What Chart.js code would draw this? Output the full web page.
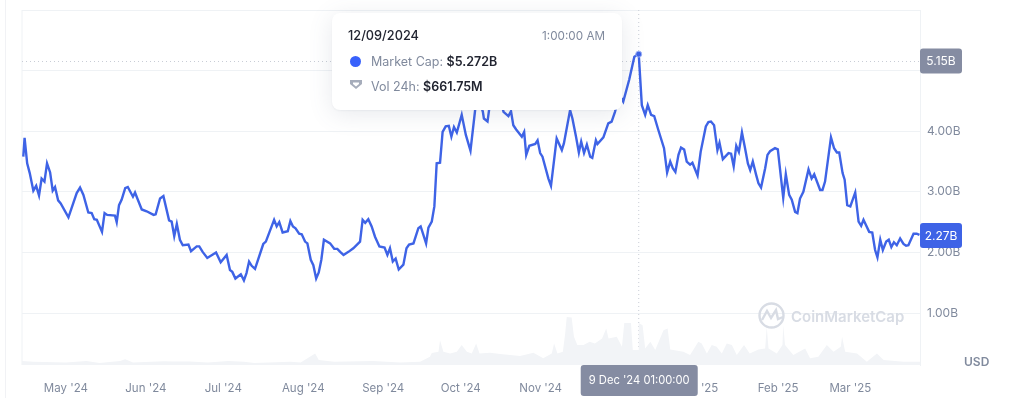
<!DOCTYPE html>
<html>
<head>
<meta charset="utf-8">
<title>Market cap</title>
<script src="https://cdn.jsdelivr.net/npm/chart.js@4"></script>
<style>
  html, body { margin: 0; padding: 0; background: #fff; }
  body { width: 1024px; height: 398px; position: relative; overflow: hidden; font-family: Inter, "Noto Sans", sans-serif; }
  #chart { position: absolute; left: 0; top: 0; }
  .edge { position: absolute; left: 5px; top: 0; width: 1px; height: 398px; background: #f1f2f5; }
  .tip { position: absolute; left: 332px; top: 13px; width: 290px; height: 97px; background: #fff; border-radius: 8px;
         box-shadow: 0 4px 24px rgba(88,102,126,.14), 0 1px 2px rgba(88,102,126,.06); font-size: 12.5px; color: #808a9d; }
  .tip span, .tip b, .tip svg, .tip i { position: absolute; white-space: nowrap; }
  .tip b { color: #222531; font-weight: 600; }
  .tip i { left: 18px; top: 43px; width: 11px; height: 11px; border-radius: 50%; background: #3861fb; }
  .usd { position: absolute; left: 964px; top: 354px; font-size: 12px; font-weight: 600; color: #808a9d; }
  .mark { position: absolute; left: 758px; top: 302px; color: #d8dce4; font-size: 15px; font-weight: 600; }
  .mark span { position: absolute; left: 33px; top: 5px; white-space: nowrap; }
</style>
</head>
<body>
<div class="edge"></div>
<canvas id="chart" width="1024" height="398" role="img" aria-label="Market cap and 24h volume, April 2024 to March 2025"></canvas>
<div class="mark">
  <svg width="27" height="27" viewBox="0 0 27 27" fill="none" stroke="currentColor" stroke-width="2.4">
    <circle cx="13.5" cy="13.5" r="12"/>
    <path d="M4 18 L9 9 L13 16 L18 8 L20 17 L25 15"/>
  </svg>
  <span>CoinMarketCap</span>
</div>
<div class="usd">USD</div>
<div class="tip">
  <b style="left:16px;top:15px;font-size:12.75px;font-weight:500">12/09/2024</b>
  <span style="right:17px;top:16px;font-size:11.7px">1:00:00 AM</span>
  <i></i>
  <span style="left:39px;top:41px">Market Cap: <b style="position:static">$5.272B</b></span>
  <svg style="left:17px;top:66px" width="14" height="11" viewBox="0 0 14 11"><path d="M1 1 H13 V5 L7 10 L1 5 Z M4 3.5 V5 L7 7.5 L10 5 V3.5 Z" fill="#a6adbb" fill-rule="evenodd"/></svg>
  <span style="left:39px;top:66px">Vol 24h: <b style="position:static">$661.75M</b></span>
</div>
<script>
// days counted from 14 Apr 2024
const capDays = [0.5,1,2,3,4.4,5.5,6.6,7.6,8.7,9.7,10.9,11.9,12.8,14,15,18,21.2,22.5,23.8,25.7,27,28,29,31,32,33,36,36.7,37.6,38.6,40,41,43,43.8,44.7,46.4,48.3,51,51.8,53.5,54.8,57,58,59,60,61.2,62.3,64.5,65.5,67.7,68.7,70,71.8,75.2,77,79.3,80.6,81.5,82.7,84.8,86,87,88,89,90.3,93.5,94.5,97.7,98.7,99.7,101,103,104,105,106,107.4,108.4,109.7,110.6,111.9,112.9,114,115,116,117,119.4,121,122.2,123.3,124.6,126.5,128.4,131,132,133,134.2,135.5,136.8,138.5,140.5,141.6,142.6,143.7,144.8,146,147.8,149,150,151.7,153.6,154.5,156.6,157.5,158.8,159.8,160.7,162,163,164.2,165.4,166.4,167.4,168.5,170.4,172,173.8,175.6,177,178.6,179,180.4,181,183,185,186.6,188.5,189.5,190.4,191.5,193.7,194.6,195.4,196.6,198.9,199.8,200.8,201.7,204,205,207.2,209.2,210,212.4,213.3,214.7,215.8,216.7,217.8,218.9,220.2,221,222.4,223,225.3,227.2,228.5,229.8,231.5,233,235.3,237.3,239,240.2,241.5,242.5,243.8,245,246.6,248.8,250,251.2,252.2,253.2,254.4,255.4,256.6,257.6,258.9,259.8,261.8,263,265,266,267,268.2,269.5,270.3,271.6,273.8,274.8,275.8,276.8,277.8,279,280.2,281.3,282.2,283.2,284.5,285.4,286.4,288,288.9,289.9,291.8,292.9,295,296,297.3,298.3,299.6,300.5,301.5,302.8,304.8,306,307,309.3,310.2,311.2,313.5,314.7,315.8,316.7,318,318.8,319.8,321,322.9,324.2,325.2,326.1,328.3,329.5,330.6,331.5,332.6,333.6,334.9,335.9,336.9,337.9,339,340.3,341.6,342.6,343.5,345.5,346.7,347.8];
const capValues = [3.58,3.89,3.47,3.31,3.02,3.10,2.94,3.22,3.17,3.47,3.32,3.02,3.08,2.86,2.81,2.58,2.98,3.07,2.95,2.66,2.65,2.55,2.54,2.34,2.65,2.62,2.61,2.50,2.78,2.87,3.06,3.08,2.92,2.99,2.89,2.71,2.68,2.62,2.63,2.89,2.93,2.53,2.51,2.27,2.47,2.21,2.12,2.13,2.02,2.10,2.10,2.01,1.91,2.00,1.84,1.96,1.71,1.68,1.57,1.64,1.54,1.66,1.85,1.78,1.73,2.14,2.18,2.54,2.43,2.50,2.33,2.35,2.52,2.43,2.40,2.31,2.30,2.18,2.15,1.88,1.79,1.57,1.67,1.88,2.21,2.15,2.06,2.06,2.01,1.96,2.01,2.07,2.18,2.54,2.49,2.55,2.43,2.26,2.10,2.08,1.96,2.07,1.85,1.90,1.72,1.80,2.07,2.13,2.15,2.40,2.43,2.15,2.41,2.51,2.76,3.47,3.48,3.99,4.08,4.09,3.91,4.07,3.98,4.27,3.94,3.68,4.35,4.55,4.32,4.21,4.16,4.35,4.75,4.6,4.32,4.25,4.33,4.10,4.03,3.91,3.99,3.61,3.76,3.79,3.85,3.64,3.58,3.22,3.10,3.88,3.69,3.80,4.35,4.21,3.91,3.65,3.83,3.64,3.78,3.58,3.56,3.85,3.79,3.90,4.13,4.16,4.32,4.6,4.49,4.85,5.23,5.272,4.43,4.27,4.43,4.27,4.25,4.02,3.72,3.32,3.50,3.39,3.33,3.61,3.73,3.70,3.50,3.45,3.48,3.27,3.66,4.08,4.15,4.16,4.10,3.69,3.81,3.54,3.64,3.63,3.42,3.76,3.66,3.98,3.72,3.47,3.36,3.50,3.28,3.14,3.07,3.39,3.61,3.67,3.72,3.70,2.90,3.29,2.95,2.87,2.67,2.65,2.89,3.00,3.37,3.22,3.29,3.03,3.03,3.17,3.90,3.72,3.65,3.65,3.31,3.20,2.78,2.76,2.99,2.51,2.44,2.54,2.34,2.33,2.04,1.92,2.21,2.04,2.18,2.21,2.09,2.17,2.12,2.23,2.14,2.11,2.12,2.31,2.31,2.29];

const volDays = [0,4.4,17,25,30,38,40,43,55,58.7,65,72,80,86,90,104,108,113.6,115,121,136,146.5,154.3,158.1,158.8,161.4,162,163.3,165.9,168.5,170.4,172.4,174.3,176,177.3,181.4,185.3,193,198.2,202,205.3,206.2,207.5,209.6,210.5,211.1,213,213.9,215.2,217.6,220,222,224.8,226.4,227.3,230.5,232.5,233.4,236,236.7,238.8,239,240.5,241.5,243.5,245.4,248.6,250.2,251.2,256.3,258.9,262.1,263.4,265.4,267.3,269.2,271.2,273.1,275.1,277,279.8,282,285.4,288,288.6,289.3,292.5,294.7,295,295.7,298.9,303.5,305.4,308.6,311.9,314.5,317.3,317.8,319,323.6,327.4,331.3,333.9,341.6,348];
const volValues = [62,50,40,62,30,62,90,40,60,55,55,38,62,50,30,50,40,180,78,50,62,38,52,130,190,210,390,210,183,210,314,210,183,340,183,194,173,141,194,105,183,340,183,210,497,758,748,445,314,314,366,340,418,575,418,445,288,664,664,235,235,661.75,628,262,366,235,549,575,246,209,157,366,340,183,314,288,183,340,314,157,314,183,246,261,601,261,183,314,628,314,157,261,105,131,314,209,288,445,209,183,52,183,78,52,52];

const tickDays = [17,48,78,109,140,170,201,231,262,293,321];
const tickLabels = ["May '24","Jun '24","Jul '24","Aug '24","Sep '24","Oct '24","Nov '24","Dec '24","Jan '25","Feb '25","Mar '25"];
const capTicks = [1,2,3,4,5,6];

const selectedDay = 239;
const crossCap = 5.15;
const lastCap = 2.27;

const BLUE = "#3e63e6";
const GREY = "#808a9d";
const GRID = "#eff2f5";
const FONT = "Inter";

const zip = (xs, ys) => xs.map((x, i) => ({ x, y: ys[i] }));

function badge(ctx, x, y, w, h, color, text, size) {
  ctx.fillStyle = color;
  ctx.beginPath();
  ctx.roundRect(x, y, w, h, 3);
  ctx.fill();
  ctx.fillStyle = "#fff";
  ctx.font = size + "px " + FONT;
  ctx.textAlign = "center";
  ctx.textBaseline = "middle";
  ctx.fillText(text, x + w / 2, y + h / 2 + 0.5);
}

// crosshair and the axis badges
const overlay = {
  id: "overlay",
  beforeDatasetsDraw(chart) {
    const { ctx, chartArea: a, scales } = chart;
    const cx = scales.x.getPixelForValue(selectedDay);
    const cy = scales.y.getPixelForValue(crossCap);
    ctx.save();
    ctx.strokeStyle = GRID;
    ctx.lineWidth = 1;
    ctx.beginPath();
    ctx.moveTo(a.left, a.top); ctx.lineTo(a.left, a.bottom);
    ctx.stroke();
    ctx.strokeStyle = "#c9cdd6";
    ctx.setLineDash([1, 3]);
    ctx.beginPath();
    ctx.moveTo(cx, a.top); ctx.lineTo(cx, a.bottom);
    ctx.moveTo(a.left, cy); ctx.lineTo(a.right, cy);
    ctx.stroke();
    ctx.restore();
  },
  afterDraw(chart) {
    const { ctx, chartArea: a, scales } = chart;
    ctx.save();
    badge(ctx, a.right, scales.y.getPixelForValue(crossCap) - 13, 42, 25, "#858ca2", crossCap.toFixed(2) + "B", 12);
    badge(ctx, a.right, scales.y.getPixelForValue(lastCap) - 13, 42, 25, BLUE, lastCap.toFixed(2) + "B", 12);
    const cx = scales.x.getPixelForValue(selectedDay);
    badge(ctx, cx - 58, a.bottom, 117, 31, "#858ca2", "9 Dec '24 01:00:00", 11.2);
    ctx.restore();
  },
};

new Chart(document.getElementById("chart"), {
  type: "line",
  data: {
    datasets: [
      {
        label: "Market Cap", data: zip(capDays, capValues), yAxisID: "y", order: 1,
        borderColor: BLUE, borderWidth: 2.4, tension: 0, backgroundColor: BLUE,
        pointRadius: (c) => (capDays[c.dataIndex] === selectedDay ? 3 : 0),
        pointBorderColor: "#9fb2f5", pointBorderWidth: 1,
      },
      {
        label: "Vol 24h", data: zip(volDays, volValues), yAxisID: "yVol", order: 2,
        borderWidth: 0, pointRadius: 0, tension: 0, fill: "origin", backgroundColor: "#f2f4f7",
      },
    ],
  },
  options: {
    responsive: false,
    animation: false,
    layout: { padding: { left: 22, top: 10, right: 0, bottom: 0 } },
    plugins: { legend: { display: false }, tooltip: { enabled: false } },
    scales: {
      x: {
        type: "linear", min: 0, max: 348,
        grid: { display: false },
        border: { display: false },
        afterBuildTicks: (s) => { s.ticks = tickDays.map((value) => ({ value })); },
        afterFit: (s) => { s.height = 33; },
        ticks: {
          autoSkip: false, maxRotation: 0, padding: 9, color: GREY, font: { family: FONT, size: 11.5 },
          callback: (v) => tickLabels[tickDays.indexOf(v)],
        },
      },
      y: {
        position: "right", min: 0.144, max: 6,
        grid: { color: GRID, drawTicks: false },
        border: { color: GRID },
        afterBuildTicks: (s) => { s.ticks = capTicks.map((value) => ({ value })); },
        afterFit: (s) => { s.width = 104; s.paddingTop = 0; s.paddingBottom = 0; },
        ticks: {
          padding: 7, color: GREY, font: { family: FONT, size: 12 },
          callback: (v) => (v >= 5 ? "" : v.toFixed(2) + "B"),
        },
      },
      yVol: { display: false, min: 0, max: 5600 },
    },
  },
  plugins: [overlay],
});
</script>
</body>
</html>
